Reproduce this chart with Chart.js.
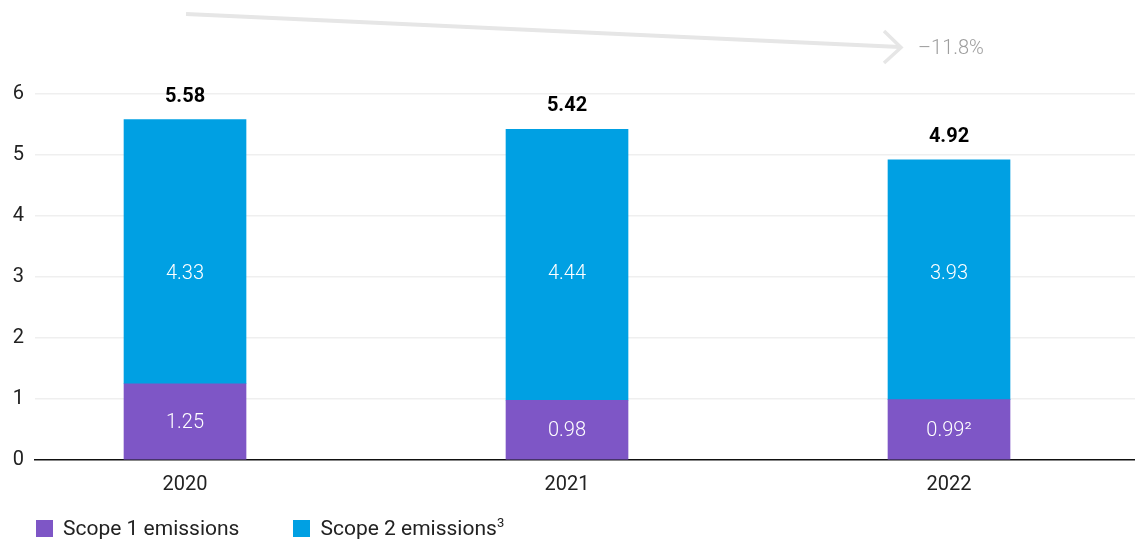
<!DOCTYPE html>
<html>
<head>
<meta charset="utf-8">
<script src="https://cdn.jsdelivr.net/npm/chart.js@4.4.0/dist/chart.umd.min.js"></script>
<style>
  html, body { margin: 0; padding: 0; background: #fff; }
  #wrap { position: relative; width: 1135px; height: 541px; }
  #legend {
    position: absolute; left: 36px; top: 516px;
    display: flex; align-items: center;
    font-family: Roboto, "Liberation Sans", sans-serif; font-size: 21px; color: #222;
  }
  #legend .item { display: flex; align-items: center; margin-right: 54px; }
  #legend .box { width: 17px; height: 17px; margin-right: 10px; }
  #legend sup { font-size: 13px; vertical-align: 8px; line-height: 0; }
</style>
</head>
<body>
<div id="wrap">
  <canvas id="chart" width="1135" height="541"></canvas>
  <div id="legend"></div>
</div>
<script>
const years = ["2020", "2021", "2022"];
const scope1 = [1.25, 0.98, 0.99];
const scope2 = [4.33, 4.44, 3.93];
const scope1Notes = ["", "", "²"];
const yTicks = [0, 1, 2, 3, 4, 5, 6];
const seriesNames = ["Scope 1 emissions", "Scope 2 emissions"];
const seriesNotes = ["", "3"];
const colors = ["#7e56c6", "#00a0e3"];

const totals = scope1.map((v, i) => v + scope2[i]);
const change = (totals[totals.length - 1] / totals[0] - 1) * 100;
const changeText = (change < 0 ? "\u2013" : "+") + Math.abs(change).toFixed(1) + "%";

const FONT = 'Roboto, "Liberation Sans", sans-serif';

// labels inside bars, totals on top, trend arrow
const labelsPlugin = {
  id: "labels",
  afterDatasetsDraw(chart) {
    const ctx = chart.ctx;
    const x = chart.scales.x, y = chart.scales.y;
    ctx.save();
    ctx.textAlign = "center";
    ctx.textBaseline = "middle";
    ctx.font = "300 20px " + FONT;
    ctx.fillStyle = "#fff";
    years.forEach((yr, i) => {
      const cx = x.getPixelForValue(i);
      ctx.fillText(scope1[i].toFixed(2) + scope1Notes[i], cx, y.getPixelForValue(scope1[i] / 2) + 1);
      ctx.fillText(scope2[i].toFixed(2), cx, y.getPixelForValue(3.05));
    });
    ctx.font = "bold 20px " + FONT;
    ctx.fillStyle = "#000";
    years.forEach((yr, i) => {
      ctx.fillText(totals[i].toFixed(2), x.getPixelForValue(i), y.getPixelForValue(totals[i]) - 23);
    });

    // trend arrow
    const x0 = x.getPixelForValue(0) + 1, y0 = 14;
    const x1 = x.getPixelForValue(years.length - 1) - 49, y1 = 47;
    ctx.strokeStyle = "#e6e6e6";
    ctx.lineWidth = 4;
    ctx.lineCap = "butt";
    ctx.beginPath();
    ctx.moveTo(x0, y0);
    ctx.lineTo(x1, y1);
    ctx.stroke();
    ctx.lineWidth = 3.5;
    ctx.beginPath();
    ctx.moveTo(x1 - 16, y1 - 16);
    ctx.lineTo(x1 + 1, y1 + 0.5);
    ctx.lineTo(x1 - 16, y1 + 16);
    ctx.stroke();
    ctx.font = "300 20px " + FONT;
    ctx.fillStyle = "#9e9e9e";
    ctx.textAlign = "left";
    ctx.fillText(changeText, x1 + 18, y1 + 2);
    ctx.restore();
  }
};

new Chart(document.getElementById("chart"), {
  type: "bar",
  data: {
    datasets: [
      {
        label: seriesNames[0],
        data: scope1.map((v, i) => ({ x: i, y: v })),
        backgroundColor: colors[0],
        barThickness: 122
      },
      {
        label: seriesNames[1],
        data: scope2.map((v, i) => ({ x: i, y: v })),
        backgroundColor: colors[1],
        barThickness: 122
      }
    ]
  },
  options: {
    responsive: false,
    animation: false,
    layout: { padding: { top: 94, bottom: 0, left: 0, right: 0 } },
    plugins: {
      legend: { display: false },
      tooltip: { enabled: false }
    },
    scales: {
      x: {
        type: "linear",
        stacked: true,
        offset: false,
        min: -0.3927,
        max: 2.4869,
        grid: { display: false },
        border: { display: true, color: "#111", width: 1.5 },
        afterBuildTicks: (scale) => {
          scale.ticks = years.map((y, i) => ({ value: i }));
        },
        afterFit: (scale) => { scale.height = 81; },
        ticks: {
          padding: 5,
          color: "#222",
          maxRotation: 0,
          font: { family: FONT, size: 20 },
          callback: (v) => years[v]
        }
      },
      y: {
        stacked: true,
        min: yTicks[0],
        max: yTicks[yTicks.length - 1],
        afterFit: (scale) => { scale.width = 35; },
        afterBuildTicks: (scale) => {
          scale.ticks = yTicks.map(v => ({ value: v }));
        },
        border: { display: false },
        grid: {
          drawTicks: false,
          color: (c) => c.tick && c.tick.value === 0 ? "rgba(0,0,0,0)" : "#efefef",
          lineWidth: 1.5
        },
        ticks: {
          padding: 11,
          color: "#222",
          font: { family: FONT, size: 20 }
        }
      }
    }
  },
  plugins: [labelsPlugin]
});

// html legend
const legend = document.getElementById("legend");
seriesNames.forEach((name, i) => {
  const item = document.createElement("div");
  item.className = "item";
  item.innerHTML = '<span class="box" style="background:' + colors[i] + '"></span>' +
    '<span>' + name + (seriesNotes[i] ? "<sup>" + seriesNotes[i] + "</sup>" : "") + '</span>';
  legend.appendChild(item);
});
</script>
</body>
</html>
